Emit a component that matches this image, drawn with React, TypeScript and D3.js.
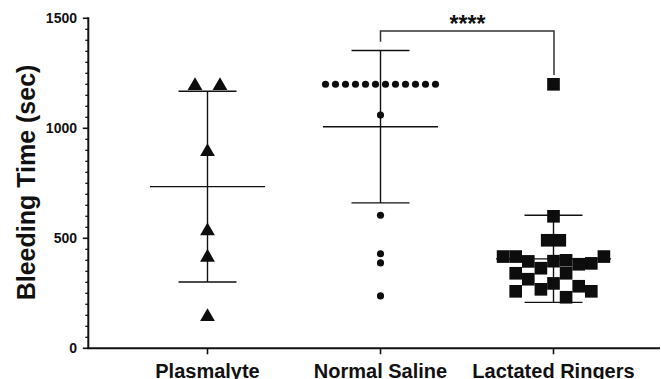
import React from "react";
import * as d3 from "d3";

const categories = ["Plasmalyte", "Normal Saline", "Lactated Ringers"];

const plasmalyteValues = [1200, 1200, 900, 540, 420, 150];
const plasmalyteSlots = [-1, 1, 0, 0, 0, 0];

const salineValues = [1200, 1200, 1200, 1200, 1200, 1200, 1200, 1200, 1200, 1200, 1200, 1200, 1060, 605, 430, 388, 238];
const salineSlots = [-5.5, -4.5, -3.5, -2.5, -1.5, -0.5, 0.5, 1.5, 2.5, 3.5, 4.5, 5.5, 0, 0, 0, 0, 0];

const ringersValues = [1200, 600, 491, 491, 417, 417, 417, 395, 386, 382, 400, 396, 364, 341, 314, 341, 295, 268, 282, 259, 259, 232];
const ringersSlots = [0, 0, -0.5, 0.5, -4, -3, 4, -2, 3, 2, 1, 0, -1, -3, -2, 1, 0, -1, 2, -3, 3, 1];

const majorTicks = [0, 500, 1000, 1500];
const minorStep = 50;
const yLabel = "Bleeding Time (sec)";
const significance = "****";

const W = 661;
const H = 379;
const FONT = "'Liberation Sans', Arial, Helvetica, sans-serif";

type Series = { values: number[]; slots: number[]; shape: "triangle" | "circle" | "square"; spacing: number };

export default function App() {
  const y = d3.scaleLinear().domain([0, 1500]).range([348.3, 18.3]);
  const x = d3.scalePoint<string>().domain(categories).range([207.5, 553.5]);
  const axisX0 = 88.3;
  const axisRight = 660;

  const series: Series[] = [
    { values: plasmalyteValues, slots: plasmalyteSlots, shape: "triangle", spacing: 12.5 },
    { values: salineValues, slots: salineSlots, shape: "circle", spacing: 10 },
    { values: ringersValues, slots: ringersSlots, shape: "square", spacing: 12.6 },
  ];

  const minorTicks = d3.range(0, 1500 + 1, minorStep).filter((v) => !majorTicks.includes(v));

  const triSym = d3.symbol().type(d3.symbolTriangle).size(95)();
  const sqSym = d3.symbol().type(d3.symbolSquare).size(160)();
  const circSym = d3.symbol().type(d3.symbolCircle).size(40)();

  const meanHalf = 57.5;
  const capHalf = 29;

  return (
    <svg width={W} height={H} style={{ position: "absolute", left: 0, top: 0, background: "#fff" }}>
      <rect x={0} y={0} width={W} height={H} fill="#fff" />
      {/* error bars */}
      {series.map((s, i) => {
        const cx = x(categories[i])!;
        const m = d3.mean(s.values)!;
        const sd = d3.deviation(s.values)!;
        return (
          <g key={"eb" + i} stroke="#111" strokeWidth={1.4} fill="none">
            <line x1={cx} x2={cx} y1={y(m - sd)} y2={y(m + sd)} />
            <line x1={cx - meanHalf} x2={cx + meanHalf} y1={y(m)} y2={y(m)} />
            <line x1={cx - capHalf} x2={cx + capHalf} y1={y(m + sd)} y2={y(m + sd)} />
            <line x1={cx - capHalf} x2={cx + capHalf} y1={y(m - sd)} y2={y(m - sd)} />
          </g>
        );
      })}
      {/* points */}
      {series.map((s, i) => {
        const cx = x(categories[i])!;
        const path = s.shape === "triangle" ? triSym : s.shape === "square" ? sqSym : circSym;
        return (
          <g key={"pts" + i} fill="#0d0d0d">
            {s.values.map((v, j) => (
              <path
                key={j}
                d={path}
                transform={`translate(${cx + s.slots[j] * s.spacing},${y(v) + (s.shape === "triangle" ? 1.5 : 0)})`}
              />
            ))}
          </g>
        );
      })}
      {/* significance bracket */}
      <g stroke="#333" strokeWidth={1.5} fill="none">
        <path d={`M${x(categories[1])},41.7 V31 H${x(categories[2])! + 0.5} V75`} />
      </g>
      <text
        x={(x(categories[1])! + x(categories[2])!) / 2 + 0.5}
        y={32}
        textAnchor="middle"
        fontFamily={FONT}
        fontWeight="bold"
        fontSize={23}
        fill="#111"
      >
        {significance}
      </text>
      {/* y axis */}
      <g stroke="#111" fill="none">
        <line x1={axisX0} x2={axisX0} y1={y(1500) - 1} y2={y(0)} strokeWidth={2} />
        {majorTicks.map((t) => (
          <line key={"M" + t} x1={axisX0 - 5.5} x2={axisX0} y1={y(t)} y2={y(t)} strokeWidth={1.6} />
        ))}
        {minorTicks.map((t) => (
          <line key={"m" + t} x1={axisX0 - 3} x2={axisX0} y1={y(t)} y2={y(t)} strokeWidth={1.3} />
        ))}
      </g>
      {majorTicks.map((t) => (
        <text
          key={"tl" + t}
          x={77}
          y={y(t)}
          dy="0.36em"
          textAnchor="end"
          fontFamily={FONT}
          fontWeight="bold"
          fontSize={14}
          fill="#111"
        >
          {t}
        </text>
      ))}
      <text
        transform={`translate(35,182.5) rotate(-90)`}
        textAnchor="middle"
        fontFamily={FONT}
        fontWeight="bold"
        fontSize={25}
        fill="#111"
      >
        {yLabel}
      </text>
      {/* x axis */}
      <g stroke="#111" fill="none">
        <line x1={axisX0 - 1} x2={axisRight} y1={y(0)} y2={y(0)} strokeWidth={2} />
        {categories.map((c) => (
          <line key={c} x1={x(c)} x2={x(c)} y1={y(0)} y2={y(0) + 6} strokeWidth={1.6} />
        ))}
      </g>
      {categories.map((c) => (
        <text
          key={"cl" + c}
          x={x(c)}
          y={378}
          textAnchor="middle"
          fontFamily={FONT}
          fontWeight="bold"
          fontSize={20}
          fill="#111"
        >
          {c}
        </text>
      ))}
    </svg>
  );
}
